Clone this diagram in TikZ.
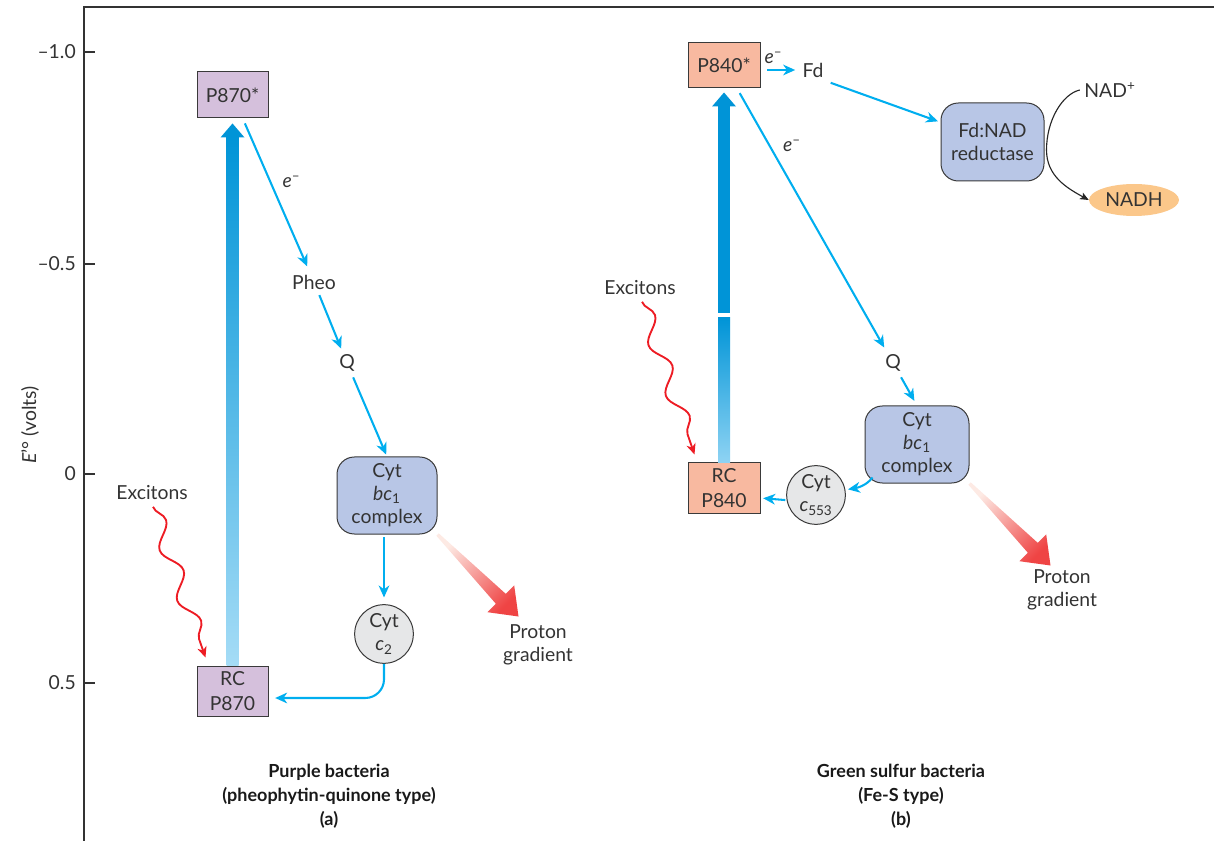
\documentclass[tikz,border=0pt]{standalone}
\usepackage{fontspec}
\setmainfont{Lato}
\usetikzlibrary{arrows.meta,calc,decorations.pathmorphing,shapes.geometric}
\definecolor{ecyan}{HTML}{00AEEF}
\definecolor{bluedark}{HTML}{0094D7}
\definecolor{bluemid}{HTML}{2AAAE2}
\definecolor{bluelight}{HTML}{A5DCF6}
\definecolor{bluelightb}{HTML}{8ED3F3}
\definecolor{lav}{HTML}{D5C0DC}
\definecolor{salmon}{HTML}{F8B9A0}
\definecolor{cytblue}{HTML}{B8C6E6}
\definecolor{cytgray}{HTML}{E6E7E8}
\definecolor{nadh}{HTML}{FBC78A}
\definecolor{excred}{HTML}{ED1C24}
\definecolor{pgpale}{HTML}{FDEAE4}
\definecolor{pgred}{HTML}{EF4444}
\definecolor{txt}{HTML}{333333}
\definecolor{boxline}{HTML}{3A3A3A}
\tikzset{
  protonarrow/.pic={
    \shade[top color=pgred, bottom color=pgpale, shading angle=225]
      (1.2,-1.2) -- (68.2,59.3) -- (76.7,50.9) -- (81,82) -- (49.9,77.7) -- (58.3,69.2) -- (-1.2,1.2) -- cycle;
  }
}
\begin{document}
\begin{tikzpicture}[x=0.75pt,y=-0.75pt,
  every node/.style={text=txt, font=\fontsize{14.5}{17.25}\selectfont, align=center},
  sqbox/.style={draw=boxline, line width=0.75pt, inner sep=0pt},
  cytbox/.style={draw=boxline, line width=0.75pt, fill=cytblue, rounded corners=13pt, inner sep=0pt},
  cytcirc/.style={draw=boxline, line width=0.75pt, fill=cytgray, circle, inner sep=0pt, minimum size=44pt},
  earrow/.style={draw=ecyan, line width=1.55pt, -{Stealth[length=9pt,width=8pt,inset=2.8pt]}},
  excarrow/.style={draw=excred, line width=1.4pt, -{Stealth[length=8pt,width=7pt,inset=2.4pt]}, decorate, decoration={snake, segment length=40pt, amplitude=6pt, post length=10pt}},
  nadarrow/.style={draw=black!85, line width=0.85pt, -{Stealth[length=6.5pt,width=5.5pt,inset=1.6pt]}},
  titletext/.style={font=\bfseries\fontsize{13.5}{18}\selectfont, text=black!90},
  elabel/.style={font=\itshape\fontsize{14.5}{17}\selectfont},
  axisline/.style={draw=black!80, line width=1.1pt},
]
\useasboundingbox (0,0) rectangle (1214,841);

% axis
\draw[axisline] (84,841) -- (84,7) -- (1214,7);
\foreach \yy/\lab [count=\i] in {52/{–1.0},264/{–0.5},474/{0},683/{0.5}}{
  \draw[black!80, line width=0.8pt] (84,\yy) -- (95,\yy);
  \node[anchor=east, inner sep=0pt] (tick\i) at (76,\yy) {\lab};
}
\node[rotate=90] (ylab) at (30,425) {{\itshape E}'° (volts)};

% ---------- panel a ----------
\node[sqbox, fill=lav, minimum width=53.25pt, minimum height=34.5pt] (P870) at (232.5,95) {P870*};
\node[sqbox, fill=lav, minimum width=53.25pt, minimum height=37.5pt, font=\fontsize{14.5}{19}\selectfont] (RCa) at (232.5,691) {RC\\P870};
\node (Pheo) at (314,282) {Pheo};
\node (Qa) at (347,363) {Q};
\node[cytbox, minimum width=75pt, minimum height=57.75pt] (bca) at (387,495.5) {Cyt\\{\itshape bc}\textsubscript{1}\\complex};
\node[cytcirc] (c2) at (384,634) {Cyt\\{\itshape c}\textsubscript{2}};
\node (Exa) at (152,493) {Excitons};
\node (PGa) at (538,645) {Proton\\gradient};

% big arrow a
\shade[top color=bluedark, middle color=bluemid, bottom color=bluelight]
  ($(P870.south)+(-6,17)$) rectangle ($(RCa.north)+(6,0)$);
\fill[bluedark] ($(P870.south)+(0,5)$) -- ($(P870.south)+(-12,19)$) -- ($(P870.south)+(12,19)$) -- cycle;

\draw[earrow, shorten <=4pt, shorten >=3pt] (P870) -- node[pos=0.42, right=5pt, elabel] (ea) {e\textsuperscript{\normalfont –}} (Pheo);
\draw[earrow, shorten <=1pt, shorten >=1pt] (Pheo) -- (Qa);
\draw[earrow, shorten <=1pt, shorten >=1.5pt] (Qa) -- (bca.north);
\draw[earrow, shorten <=2pt, shorten >=5pt] (bca.south -| c2.north) -- (c2.north);
\draw[earrow, rounded corners=14pt, shorten >=5pt] (c2.south) |- ($(RCa.east)+(0,7)$);
\draw[excarrow] ($(Exa.south)+(1,2)$) -- ($(RCa.north west)+(9,-8)$);
\pic (pga) at (bca.south east) {protonarrow};

\node[titletext] (Ta) at (329,796) {Purple bacteria\\(pheophytin-quinone type)\\(a)};

% ---------- panel b ----------
\node[sqbox, fill=salmon, minimum width=54pt, minimum height=33.75pt] (P840) at (724,65.5) {P840*};
\node (Fd) at (813,70) {Fd};
\node[cytbox, minimum width=77.25pt, minimum height=58.5pt] (Red) at (992.5,142) {Fd:NAD\\reductase};
\node (NADp) at (1110,90) {NAD\textsuperscript{+}};
\node[ellipse, fill=nadh, minimum width=67.5pt, minimum height=24pt, inner sep=0pt] (NADH) at (1134,200) {NADH};
\node (Qb) at (893,363) {Q};
\node[cytbox, minimum width=78pt, minimum height=57.75pt] (bcb) at (917,444.5) {Cyt\\{\itshape bc}\textsubscript{1}\\complex};
\node[cytcirc] (c553) at (816,495) {Cyt\\{\itshape c}\textsubscript{553}};
\node[sqbox, fill=salmon, minimum width=54pt, minimum height=37.5pt, font=\fontsize{14.5}{19}\selectfont] (RCb) at (724,488) {RC\\P840};
\node (Exb) at (640,288) {Excitons};
\node (PGb) at (1062,590) {Proton\\gradient};

% big arrow b
\fill[bluedark] ($(P840.south)+(-6,17)$) rectangle ($(P840.south)+(6,225)$);
\shade[top color=bluedark, bottom color=bluelightb]
  ($(P840.south)+(-6,229)$) rectangle ($(RCb.north)+(6,0)$);
\fill[bluedark] ($(P840.south)+(0,4)$) -- ($(P840.south)+(-12,18)$) -- ($(P840.south)+(12,18)$) -- cycle;

\draw[earrow, shorten <=5pt, shorten >=2pt] (P840.east |- Fd) -- node[pos=0.35, above=1pt, elabel] (eb1) {e\textsuperscript{\normalfont –}} (Fd.west);
\draw[earrow, shorten <=2pt, shorten >=2pt] (Fd.south east) -- ($(Red.north west)!0.25!(Red.south west)$);
\draw[earrow, shorten <=4pt, shorten >=2pt] (P840) -- node[pos=0.22, right=6pt, elabel] (eb2) {e\textsuperscript{\normalfont –}} (Qb);
\draw[earrow, shorten <=1pt, shorten >=4pt] (Qb) -- (bcb.north);
\draw[earrow, shorten >=2pt] ($(bcb.south west)+(8,-6)$) .. controls ($(bcb.south west)+(2,2)$) and ($(c553.10)+(12,-2)$) .. (c553.10);
\draw[earrow, shorten <=1pt, shorten >=2pt] (c553.190) -- ($(RCb.east)+(0,10)$);
\draw[nadarrow] (NADp.west) .. controls ($(Red.east)+(18,-48)$) and ($(Red.east)+(2,-22)$) .. ($(Red.east)+(2,8)$)
  .. controls ($(Red.east)+(2,34)$) and ($(NADH.west)+(-22,-12)$) .. (NADH.west);
\draw[excarrow] ($(Exb.south)+(2,2)$) -- ($(RCb.north west)+(7,-8)$);
\pic (pgb) at (bcb.south east) {protonarrow};

\node[titletext] (Tb) at (901,796) {Green sulfur bacteria\\(Fe-S type)\\(b)};
\end{tikzpicture}
\end{document}
